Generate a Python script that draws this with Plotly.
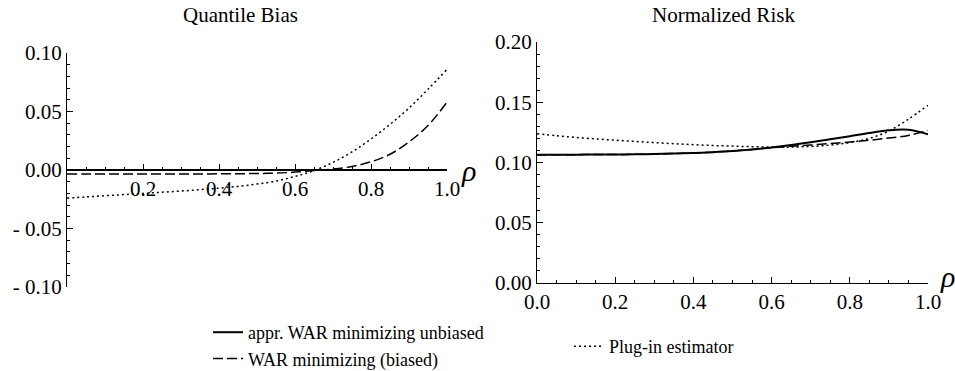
import plotly.graph_objects as go

rho = [0.0, 0.05, 0.1, 0.15, 0.2, 0.25, 0.3, 0.35, 0.4, 0.45, 0.5,
       0.55, 0.6, 0.65, 0.7, 0.75, 0.8, 0.85, 0.9, 0.95, 1.0]

series_names = ["appr. WAR minimizing unbiased", "WAR minimizing (biased)", "Plug-in estimator"]

# Quantile Bias panel
bias_unbiased = [0.0] * 21
bias_biased = [-0.0035, -0.0035, -0.0035, -0.0035, -0.0035, -0.0035, -0.0035, -0.0034,
               -0.0033, -0.0032, -0.0030, -0.0027, -0.0018, -0.0005, 0.0008, 0.0030,
               0.0070, 0.0135, 0.0240, 0.0380, 0.0580]
bias_plugin = [-0.0240, -0.0230, -0.0220, -0.0210, -0.0200, -0.0190, -0.0180, -0.0168,
               -0.0155, -0.0140, -0.0120, -0.0095, -0.0055, -0.0005, 0.0065, 0.0155,
               0.0265, 0.0390, 0.0530, 0.0690, 0.0860]

# Normalized Risk panel
risk_unbiased = [0.1065, 0.1065, 0.1065, 0.1066, 0.1067, 0.1068, 0.1070, 0.1074, 0.1079,
                 0.1086, 0.1095, 0.1108, 0.1125, 0.1145, 0.1168, 0.1193, 0.1218, 0.1245,
                 0.1268, 0.1272, 0.1235]
risk_biased = [0.1065, 0.1065, 0.1065, 0.1066, 0.1067, 0.1068, 0.1070, 0.1074, 0.1079,
               0.1086, 0.1095, 0.1108, 0.1123, 0.1135, 0.1145, 0.1157, 0.1170, 0.1185,
               0.1203, 0.1225, 0.1265]
risk_plugin = [0.1238, 0.1222, 0.1208, 0.1196, 0.1185, 0.1175, 0.1165, 0.1156, 0.1148,
               0.1141, 0.1136, 0.1131, 0.1128, 0.1128, 0.1133, 0.1145, 0.1165, 0.1200,
               0.1262, 0.1360, 0.1475]

bias_ticks = [-0.10, -0.05, 0.0, 0.05, 0.10]
bias_ticktext = ["- 0.10", "- 0.05", "0.00", "0.05", "0.10"]
risk_ticks = [0.0, 0.05, 0.10, 0.15, 0.20]
risk_ticktext = ["0.00", "0.05", "0.10", "0.15", "0.20"]
rho_ticks_left = [0.2, 0.4, 0.6, 0.8, 1.0]
rho_ticks_right = [0.0, 0.2, 0.4, 0.6, 0.8, 1.0]

FONT = '"Liberation Serif", "DejaVu Serif", serif'
styles = [dict(width=2.0, dash="solid"),
          dict(width=1.5, dash="10px,4px"),
          dict(width=1.5, dash="2px,3px")]

fig = go.Figure()
left_data = [bias_unbiased, bias_biased, bias_plugin]
right_data = [risk_unbiased, risk_biased, risk_plugin]
draw_order = [2, 1, 0]
for i in draw_order:
    fig.add_trace(go.Scatter(x=rho, y=left_data[i], mode="lines", line_shape="spline",
                             line=dict(color="black", **styles[i]),
                             showlegend=False, xaxis="x", yaxis="y"))
legend_of = ["legend", "legend", "legend2"]
for i in draw_order:
    fig.add_trace(go.Scatter(x=rho, y=right_data[i], mode="lines", line_shape="spline",
                             line=dict(color="black", **styles[i]),
                             name=series_names[i], legend=legend_of[i],
                             legendgroup=series_names[i], legendrank=i,
                             showlegend=True, xaxis="x2", yaxis="y2"))

W, H = 955, 371
def px(x):
    return x / W
def py(y):
    return 1 - y / H

ld = [px(67), px(447)]
rd = [px(537), px(928)]
lyd = [py(287), py(53)]
ryd = [py(283), py(42)]

axis_common = dict(showline=True, linecolor="black", linewidth=1.2, ticks="inside",
                   tickcolor="black", showgrid=False, zeroline=False, automargin=False,
                   tickfont=dict(family=FONT, size=21, color="black"))

def note(text, x, y, size, italic=False):
    return dict(text=f"<i>{text}</i>" if italic else text, x=px(x), y=py(y),
                xref="paper", yref="paper", xanchor="center", yanchor="middle",
                showarrow=False, font=dict(family=FONT, size=size, color="black"))

fig.update_layout(
    template="none",
    width=W, height=H, margin=dict(l=0, r=0, t=0, b=0, autoexpand=False),
    paper_bgcolor="white", plot_bgcolor="white",
    font=dict(family=FONT, color="black"),
    xaxis=dict(domain=ld, range=[0, 1], anchor="free",
               position=(lyd[0] + lyd[1]) / 2, tickvals=rho_ticks_left,
               ticktext=["0.2", "0.4", "0.6", "0.8", "1.0"], ticklen=6,
               minor=dict(dtick=0.05, tick0=0, ticks="inside", ticklen=3, tickcolor="black"),
               **axis_common),
    yaxis=dict(domain=lyd, range=[-0.1, 0.1], anchor="x", tickvals=bias_ticks,
               ticktext=bias_ticktext, ticklen=6,
               minor=dict(dtick=0.01, tick0=0, ticks="inside", ticklen=3, tickcolor="black"),
               **axis_common),
    xaxis2=dict(domain=rd, range=[0, 1], anchor="y2", tickvals=rho_ticks_right,
                ticktext=["0.0", "0.2", "0.4", "0.6", "0.8", "1.0"], ticklen=6,
                minor=dict(dtick=0.05, tick0=0, ticks="inside", ticklen=3, tickcolor="black"),
                **axis_common),
    yaxis2=dict(domain=ryd, range=[0, 0.2], anchor="x2", tickvals=risk_ticks,
                ticktext=risk_ticktext, ticklen=6,
                minor=dict(dtick=0.01, tick0=0, ticks="inside", ticklen=3, tickcolor="black"),
                **axis_common),
    legend=dict(x=px(208), y=py(314), xanchor="left", yanchor="top",
                font=dict(family=FONT, size=18, color="black"), tracegroupgap=0,
                bgcolor="rgba(0,0,0,0)", traceorder="grouped", itemwidth=30),
    legend2=dict(x=px(569), y=py(328), xanchor="left", yanchor="top",
                 font=dict(family=FONT, size=18, color="black"),
                 bgcolor="rgba(0,0,0,0)", itemwidth=30),
    annotations=[
        note("Quantile Bias", 240, 15, 21),
        note("Normalized Risk", 723, 15, 21),
        note("ρ", 468, 170, 30, italic=True),
        note("ρ", 947, 276, 30, italic=True),
    ],
)

fig.write_html("out.html")
